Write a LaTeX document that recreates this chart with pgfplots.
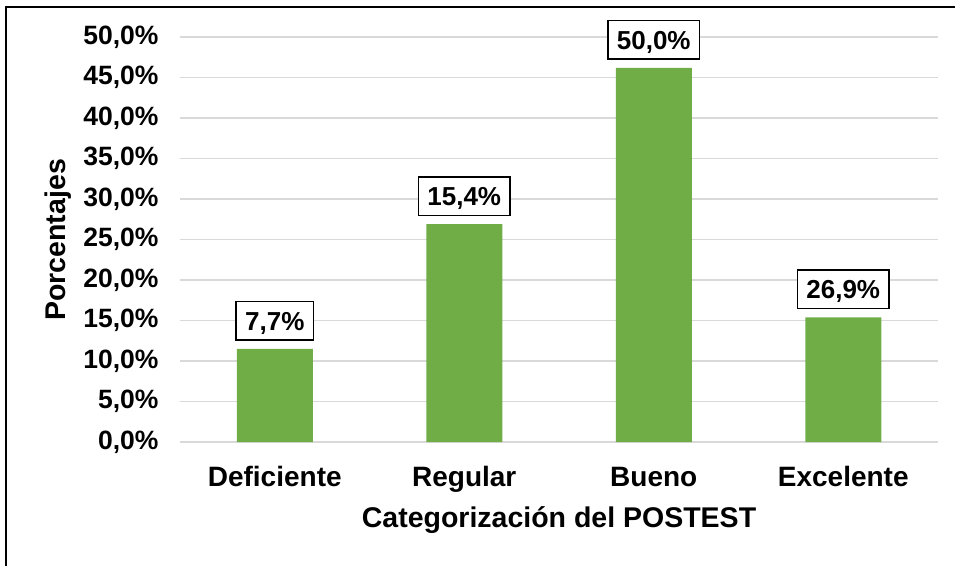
\documentclass[border=0pt]{standalone}
\usepackage{fontspec}
\setmainfont{Liberation Sans}
\usepackage{pgfplots}
\pgfplotsset{compat=1.18}
\definecolor{bargreen}{HTML}{70AD47}
\definecolor{gridgray}{HTML}{D9D9D9}
\begin{document}
\begin{tikzpicture}
\path[use as bounding box] (0pt,0pt) rectangle (955pt,565pt);
\draw[line width=2pt] (6pt,-2pt) -- (6pt,558pt) -- (957pt,558pt);
\begin{axis}[
  at={(180pt,123pt)}, anchor=south west,
  scale only axis, width=758pt, height=405pt,
  ybar, bar width=76pt, bar shift=0pt,
  xmin=-0.5, xmax=3.5, ymin=0, ymax=50,
  clip=false,
  xtick={0,1,2,3},
  xticklabels={Deficiente,Regular,Bueno,Excelente},
  ytick={0,5,...,50},
  yticklabels={{0,0\%},{5,0\%},{10,0\%},{15,0\%},{20,0\%},{25,0\%},{30,0\%},{35,0\%},{40,0\%},{45,0\%},{50,0\%}},
  ymajorgrids,
  major grid style={draw=gridgray, line width=1.3pt},
  axis line style={draw=none},
  major tick length=0pt,
  yticklabel style={font=\fontsize{26.5}{29}\selectfont\bfseries, anchor=east, xshift=-18pt},
  xticklabel style={font=\fontsize{28}{32}\selectfont\bfseries, anchor=base, yshift=-44pt},
  xlabel={Categorización del POSTEST},
  xlabel style={font=\fontsize{28.5}{32}\selectfont\bfseries, at={(axis description cs:0.5,-0.212)}, anchor=base},
  ylabel={Porcentajes},
  ylabel style={font=\fontsize{28.5}{32}\selectfont\bfseries, at={(axis description cs:-0.161,0.499)}, anchor=center, rotate=0},
  nodes near coords,
  point meta=explicit symbolic,
  nodes near coords style={anchor=south, yshift=8pt, draw=black, line width=1.5pt, fill=white,
    font=\fontsize{26}{29}\selectfont\bfseries, text height=18.5pt, text depth=0pt,
    inner xsep=9pt, inner ysep=10pt},
]
\addplot[fill=bargreen, draw=none] coordinates {
  (0,11.5) [7,7\%]
  (1,26.9) [15,4\%]
  (2,46.2) [50,0\%]
  (3,15.4) [26,9\%]
};
\end{axis}
\end{tikzpicture}
\end{document}
